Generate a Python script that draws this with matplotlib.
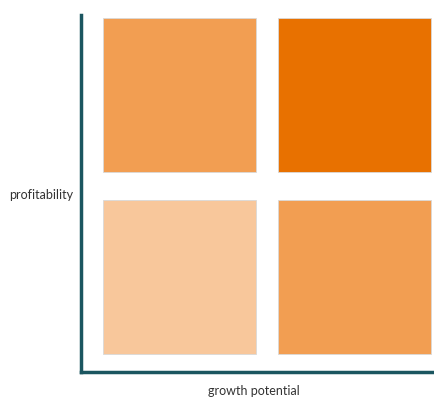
import matplotlib
matplotlib.use("Agg")
import matplotlib.pyplot as plt

# Data
growth_levels = ["low", "high"]          # x categories
profit_levels = ["low", "high"]          # y categories
# colour per cell, rows = profitability (low, high), cols = growth (low, high)
cell_colors = [["#F8C79B", "#F29E52"],
               ["#F29E52", "#E87100"]]
x_label = "growth potential"
y_label = "profitability"

plt.rcParams['font.family'] = ['Lato', 'DejaVu Sans']

fig = plt.figure(figsize=(4.35, 3.97), dpi=100)
ax = fig.add_axes([81/435, 25/397, 354/435, 357/397])

sq_w = 153/175
sq_h = 154/182
for yi, yl in enumerate(profit_levels):
    for xi, xl in enumerate(growth_levels):
        ax.bar(xi + 0.5, sq_h, width=sq_w, bottom=yi + 0.5 - sq_h/2,
               color=cell_colors[yi][xi], edgecolor="#d9d9d9", linewidth=0.6)

ax.set_xlim(-0.063, 1.960)
ax.set_ylim(-0.022, 1.940)
ax.set_xticks([])
ax.set_yticks([])
for s in ["top", "right"]:
    ax.spines[s].set_visible(False)
for s in ["left", "bottom"]:
    ax.spines[s].set_color("#1b5660")
    ax.spines[s].set_linewidth(2.5)

fig.text(254/435, 1 - 391/397, x_label, ha="center", va="center",
         fontsize=9, color="#333333")
fig.text(41/435, 1 - 195/397, y_label, ha="center", va="center",
         fontsize=9, color="#333333")

fig.savefig("out.png", dpi=100)
